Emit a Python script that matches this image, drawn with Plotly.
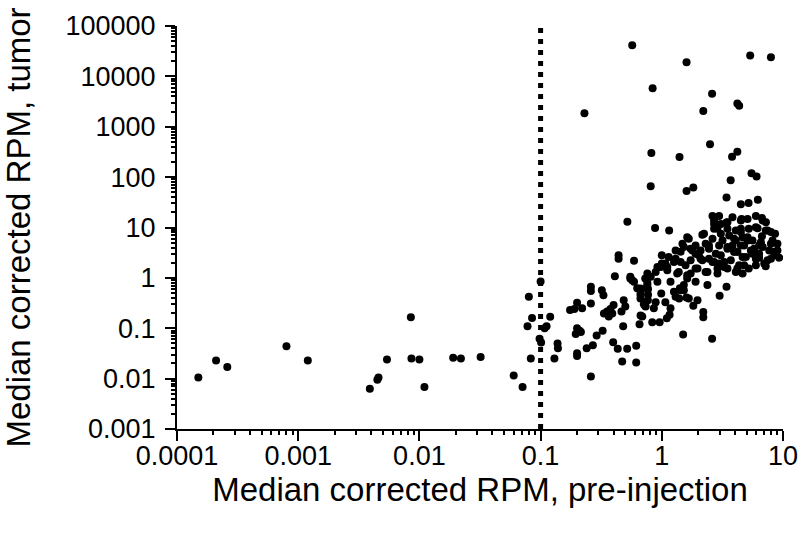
import plotly.graph_objects as go

# ---- data (median corrected RPM) ----
low_x = [0.00015, 0.00021, 0.00026, 0.0008, 0.0012, 0.0039, 0.0045, 0.0046, 0.0054, 0.0085,
         0.0086, 0.0100, 0.011, 0.019, 0.022, 0.032, 0.060, 0.071, 0.080, 0.085, 0.078, 0.083]
low_y = [0.0105, 0.023, 0.017, 0.044, 0.023, 0.0063, 0.0095, 0.0105, 0.024, 0.165,
         0.025, 0.024, 0.0068, 0.026, 0.025, 0.027, 0.0115, 0.0068, 0.42, 0.16, 0.11, 0.025]

thr_x = [0.1, 0.098, 0.101, 0.108, 0.112, 0.12, 0.13, 0.138, 0.139, 0.175, 0.19, 0.2, 0.22,
         0.26, 0.26, 0.26, 0.2, 0.21, 0.215, 0.195, 0.2, 0.2, 0.24, 0.27, 0.26, 0.29, 0.325,
         0.32, 0.33]
thr_y = [0.85, 0.062, 0.052, 0.10, 0.11, 0.17, 0.025, 0.05, 0.04, 0.23, 0.24, 0.32, 0.25,
         0.67, 0.55, 0.31, 0.1, 0.089, 0.084, 0.077, 0.032, 0.028, 0.04, 0.046, 0.011, 0.072, 0.089,
         0.57, 0.45]

mid_x = [0.40, 0.377, 0.354, 0.333, 0.365, 0.39, 0.485, 0.50, 0.465, 0.627, 0.668, 0.748, 0.711,
         0.735, 0.69, 0.86, 0.767, 0.48, 0.655, 0.668, 0.834, 0.96, 1.1, 0.397, 0.433, 0.518,
         0.615, 0.471, 0.615, 0.73, 0.73, 0.77, 0.667, 0.76, 0.44, 0.44, 0.59, 0.41, 0.55, 0.57,
         0.55, 0.59, 0.76, 0.92, 1.07, 1.3, 0.89, 0.81, 0.92, 0.73, 0.76, 0.667,
         0.667, 0.77, 1.07, 1.3, 0.89]
mid_y = [0.29, 0.24, 0.214, 0.197, 0.171, 0.197, 0.36, 0.27, 0.214, 0.62, 0.53, 0.62, 0.30,
         0.27, 0.171, 0.25, 0.36, 0.11, 0.12, 0.179, 0.132, 0.132, 0.158, 0.053, 0.039, 0.039,
         0.045, 0.022, 0.021, 0.33, 0.28, 0.6, 0.46, 0.79, 2.8, 2.4, 2.2, 1.08, 1.05, 0.9,
         0.97, 0.84, 1.22, 1.65, 1.92, 2.4, 1.31, 1.05, 0.84, 0.97, 0.72, 0.617,
         0.39, 0.46, 0.33, 0.42, 0.33]

right_low_x = [1.5, 2.6, 2.2, 2.2, 1.18, 1.16, 1.82, 1.97, 1.39, 1.6, 1.52, 3.0, 3.42, 0.99,
               1.26, 1.41, 1.67, 1.43, 1.52, 2.38, 1.9, 1.18, 1.62]
right_low_y = [0.075, 0.062, 0.21, 0.165, 0.25, 0.185, 0.28, 0.36, 0.39, 0.41, 0.57, 0.44, 0.67,
               0.49, 0.53, 0.62, 0.39, 0.57, 0.72, 0.72, 0.84, 0.84, 0.97]

cluster_x = [0.52, 0.88, 1.15, 1.0, 1.48, 1.62, 1.73, 1.43, 1.9, 2.16, 2.45, 2.7, 3.07, 3.48,
             2.7, 4.49, 5.97, 6.8, 7.2, 8.6, 9.0, 8.5, 9.3, 7.2, 6.35, 5.6, 4.64, 4.2, 4.78,
             3.95, 4.49, 5.1, 6.57, 5.78, 3.48, 3.07, 3.27, 2.7, 2.88, 2.38, 1.97, 1.73, 2.09,
             1.26, 1.11, 1.34, 4.21, 3.83, 2.23, 1.9, 2.45, 3.17, 4.08, 4.64, 5.6, 6.35, 7.7,
             7.95, 7.0, 5.97, 4.94, 4.34, 3.71, 3.27, 2.88, 2.62, 2.16, 1.9, 1.57, 1.38, 1.11,
             1.62, 2.3, 4.08, 5.22, 3.83, 4.49, 2.79, 3.48, 6.17, 7.46, 8.2, 6.7, 5.22, 4.49, 0.98]
cluster_y = [13, 9.8, 8.7, 2.8, 4.75, 6.4, 3.8, 3.3, 3.0, 7.2, 4.4, 9.4, 11.8, 12.7,
             13.7, 13.7, 10.1, 13.7, 8.7, 7.5, 4.75, 3.3, 2.5, 1.7, 2.5, 3.0, 2.6, 1.53, 1.78,
             5.97, 8.1, 5.5, 5.1, 3.8, 3.8, 2.8, 2.07, 2.07, 1.53, 1.31, 1.53, 1.22, 2.4,
             2.07, 1.41, 1.22, 3.26, 4.4, 7.5, 4.4, 3.8, 5.5, 8.7, 6.4, 5.5, 4.4, 3.5,
             2.4, 1.92, 2.4, 2.6, 1.78, 2.23, 1.65, 1.22, 2.07, 2.23, 1.53, 1.78, 1.31, 1.65,
             1.13, 1.31, 1.31, 1.53, 3.8, 4.4, 3.0, 9.4, 9.7, 8.7, 5.5, 6.7, 9.4, 9.4, 1.65]

dense_x = [3.42, 2.7, 2.88, 1.67, 1.52, 1.79, 2.02, 1.3, 1.14, 1.0, 1.43, 1.73, 2.97, 3.48,
           3.95, 4.78, 5.43, 6.35, 6.8, 7.95, 5.1, 4.08, 3.6, 3.07, 2.62, 2.3, 2.09, 2.45,
           2.97, 3.48, 4.64, 5.97, 7.46, 8.47, 9.0, 5.97, 7.23, 7.95, 5.1, 3.83]
dense_y = [12.5, 11.8, 9.4, 5.97, 4.1, 3.5, 2.8, 3.5, 2.6, 1.92, 2.07, 2.23, 4.4, 4.1,
           3.26, 4.4, 3.5, 3.0, 4.1, 4.75, 6.44, 5.52, 6.9, 7.48, 5.97, 4.75, 3.5, 2.4,
           1.92, 1.53, 1.22, 1.78, 2.23, 2.8, 3.5, 17, 12.7, 8.1, 14.8, 16]

high_x = [0.57, 1.6, 5.36, 7.95, 0.84, 2.6, 2.2, 4.2, 4.35, 0.23, 0.82, 1.4, 2.5, 4.2, 3.8,
          5.5, 6.05, 3.7, 0.81, 1.6, 1.82, 3.42, 4.49, 5.2, 6.2, 2.62, 2.97, 4.55, 6.7]
high_y = [41500, 19000, 26000, 24000, 5800, 4500, 2050, 2900, 2600, 1850, 300, 250, 450, 320, 255,
          120, 103, 87, 66, 53, 62, 39.5, 29, 30.5, 35.5, 17, 17, 14.8, 15.5]

threshold = 0.1

x_tickvals = [0.0001, 0.001, 0.01, 0.1, 1, 10]
x_ticktext = ["0.0001", "0.001", "0.01", "0.1", "1", "10"]
y_tickvals = [0.001, 0.01, 0.1, 1, 10, 100, 1000, 10000, 100000]
y_ticktext = ["0.001", "0.01", "0.1", "1", "10", "100", "1000", "10000", "100000"]

x_minor = [m * 10.0 ** e for e in range(-4, 1) for m in range(2, 10)]
y_minor = [m * 10.0 ** e for e in range(-3, 5) for m in range(2, 10)]

xs = low_x + thr_x + mid_x + right_low_x + cluster_x + dense_x + high_x
ys = low_y + thr_y + mid_y + right_low_y + cluster_y + dense_y + high_y

FONT = "Liberation Sans, Arial, sans-serif"
XR = [-4, 1]
YR = [-3, 5]

fig = go.Figure()
fig.add_trace(go.Scatter(
    x=xs, y=ys, mode="markers",
    marker=dict(color="black", size=8, line=dict(width=0)),
    showlegend=False, hoverinfo="x+y",
))
# empty trace that carries the minor-tick axes
fig.add_trace(go.Scatter(x=[], y=[], xaxis="x2", yaxis="y2", showlegend=False,
                         hoverinfo="skip"))

fig.add_shape(type="line", xref="x", yref="paper", x0=threshold, x1=threshold, y0=0, y1=1,
              line=dict(color="black", width=5, dash="5px,6px"), layer="above")

axis_common = dict(
    showline=True, linecolor="black", linewidth=2,
    ticks="outside", ticklen=10, tickwidth=2, tickcolor="black",
    showgrid=False, zeroline=False, mirror=False, automargin=False,
    tickfont=dict(family=FONT, size=27, color="black"),
    title_font=dict(family=FONT, size=33, color="black"),
)
minor_common = dict(
    showline=False, ticks="outside", ticklen=5, tickwidth=2, tickcolor="black",
    showgrid=False, zeroline=False, showticklabels=False, automargin=False,
)

fig.update_layout(
    width=799, height=533,
    margin=dict(l=177, r=16, t=26, b=104),
    plot_bgcolor="white", paper_bgcolor="white",
    font=dict(family=FONT, color="black"),
    xaxis=dict(type="log", range=XR, tickmode="array",
               tickvals=x_tickvals, ticktext=x_ticktext, ticklabelstandoff=-8,
               title=dict(text="Median corrected RPM, pre-injection", standoff=7),
               **axis_common),
    yaxis=dict(type="log", range=YR, tickmode="array",
               tickvals=y_tickvals, ticktext=y_ticktext, ticklabelstandoff=4,
               title=dict(text="Median corrected RPM, tumor", standoff=26),
               **axis_common),
    xaxis2=dict(type="log", range=XR, overlaying="x", side="bottom", anchor="y2",
                tickmode="array", tickvals=x_minor, **minor_common),
    yaxis2=dict(type="log", range=YR, overlaying="y", side="left", anchor="x2",
                tickmode="array", tickvals=y_minor, **minor_common),
)

# remove the default page margin so the 799x533 figure fills the window exactly
fig.write_html("out.html", config={"displayModeBar": False},
               post_script="document.body.style.margin='0px';")
